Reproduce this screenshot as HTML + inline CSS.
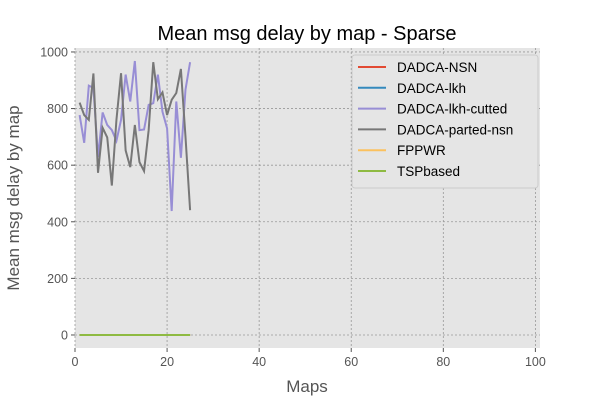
<!DOCTYPE html>
<html><head><meta charset="utf-8"><style>
body{margin:0;background:#fff;font-family:"Liberation Sans","DejaVu Sans",sans-serif}
</style></head><body>
<svg id="chart" width="600" height="400" xmlns="http://www.w3.org/2000/svg" font-family="Liberation Sans, DejaVu Sans, sans-serif">
<rect x="0" y="0" width="600" height="400" fill="#fff"/>
<rect x="75" y="48" width="465" height="300" fill="#e5e5e5"/>
<g id="grid"></g><g id="ticks"></g><g id="series"></g>
<text x="307" y="40" font-size="20" text-anchor="middle" fill="#000">Mean msg delay by map - Sparse</text>
<text x="307" y="392" font-size="17" text-anchor="middle" fill="#555">Maps</text>
<text transform="translate(19,198) rotate(-90)" font-size="17" text-anchor="middle" fill="#555">Mean msg delay by map</text>
<g id="legend"></g>
</svg>
<script>
const xTicks=[0,20,40,60,80,100];
const yTicks=[0,200,400,600,800,1000];
const maps=[1,2,3,4,5,6,7,8,9,10,11,12,13,14,15,16,17,18,19,20,21,22,23,24,25];
const seriesNames=["DADCA-NSN","DADCA-lkh","DADCA-lkh-cutted","DADCA-parted-nsn","FPPWR","TSPbased"];
const seriesColors=["#E24A33","#348ABD","#988ED5","#777777","#FBC15E","#8EBA42"];
const nsnVals=[0,0,0,0,0,0,0,0,0,0,0,0,0,0,0,0,0,0,0,0,0,0,0,0,0];
const lkhVals=[0,0,0,0,0,0,0,0,0,0,0,0,0,0,0,0,0,0,0,0,0,0,0,0,0];
const cuttedVals=[777,679,881,873,629,786,742,724,686,760,920,825,968,724,726,813,819,920,789,730,438,825,626,867,964];
const partedVals=[821,777,760,924,573,732,698,528,760,925,652,593,742,611,579,724,964,833,857,777,831,855,940,700,441];
const fppwrVals=[0,0,0,0,0,0,0,0,0,0,0,0,0,0,0,0,0,0,0,0,0,0,0,0,0];
const tspVals=[0,0,0,0,0,0,0,0,0,0,0,0,0,0,0,0,0,0,0,0,0,0,0,0,0];
const allVals=[nsnVals,lkhVals,cuttedVals,partedVals,fppwrVals,tspVals];
const NS="http://www.w3.org/2000/svg";
const X0=75,X1=540,Y0=348,Y1=48,xmin=0,xmax=101,ymin=-46,ymax=1014;
function sx(v){return X0+(v-xmin)/(xmax-xmin)*(X1-X0);}
function sy(v){return Y0-(v-ymin)/(ymax-ymin)*(Y0-Y1);}
function mk(t,a,p){const e=document.createElementNS(NS,t);for(const k in a)e.setAttribute(k,a[k]);p.appendChild(e);return e;}
const grid=document.getElementById('grid'),ticks=document.getElementById('ticks');
xTicks.forEach(v=>{
  const g=mk('line',{x1:sx(v),x2:sx(v),y1:Y1,y2:Y0,stroke:'#999','stroke-dasharray':'2,2','stroke-width':0.8},grid);
  
  
  mk('line',{x1:sx(v),x2:sx(v),y1:Y0,y2:Y0+4,stroke:'#555'},ticks);
  const t=mk('text',{x:sx(v),y:Y0+18,'font-size':12.5,'text-anchor':'middle',fill:'#555'},ticks);
  t.textContent=v;
  
  
});
yTicks.forEach(v=>{
  const g=mk('line',{x1:X0,x2:X1,y1:sy(v),y2:sy(v),stroke:'#999','stroke-dasharray':'2,2','stroke-width':0.8},grid);
  
  
  mk('line',{x1:X0-4,x2:X0,y1:sy(v),y2:sy(v),stroke:'#555'},ticks);
  const t=mk('text',{x:X0-7,y:sy(v)+4.5,'font-size':12.5,'text-anchor':'end',fill:'#555'},ticks);
  t.textContent=v;
  
  
});
const sg=document.getElementById('series');
allVals.forEach((vals,i)=>{
  const pts=maps.map((m,j)=>sx(m)+','+sy(vals[j])).join(' ');
  const p=mk('polyline',{points:pts,fill:'none',stroke:seriesColors[i],'stroke-width':2},sg);
  
  
});
const lg=document.getElementById('legend');
mk('rect',{x:352,y:55,width:186,height:133,fill:'#e5e5e5',stroke:'#ccc',rx:3},lg);
seriesNames.forEach((n,i)=>{
  const y=67+i*20.8;
  mk('line',{x1:358,x2:386,y1:y,y2:y,stroke:seriesColors[i],'stroke-width':2},lg);
  const t=mk('text',{x:397,y:y+5,'font-size':13.5,fill:'#000'},lg);
  t.textContent=n;
  
  
});
</script>
</body></html>
